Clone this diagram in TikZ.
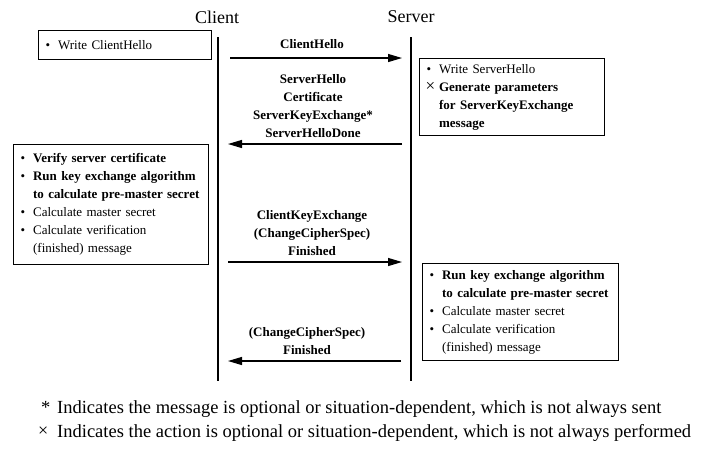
\documentclass[tikz,border=0pt]{standalone}
\usepackage{fontspec}
\setmainfont{Liberation Serif}
\usetikzlibrary{arrows.meta}

% list helpers for the action boxes
\newcommand\itm[1]{\makebox[13.5pt][l]{\hspace{1pt}\textbullet}#1}
\newcommand\opt[1]{\makebox[13.5pt][l]{{\fontsize{17}{17}\selectfont\raisebox{0pt}{×}}}#1}
\newcommand\cont[1]{\hspace*{13.5pt}#1}

\tikzset{
  lifeline/.style={line width=1.3pt},
  msgline/.style={line width=1.2pt, -{Triangle[length=14pt,width=8pt]}},
  msglabel/.style={font=\bfseries\fontsize{13}{18}\selectfont, align=center, inner sep=0pt},
  actbox/.style={draw, line width=1.2pt, anchor=north west, inner xsep=6pt, inner ysep=0pt,
                 align=left, font=\fontsize{13}{18}\selectfont},
  party/.style={font=\fontsize{18}{20}\selectfont, inner sep=0pt},
  note/.style={font=\fontsize{18.5}{24}\selectfont, anchor=base west, inner sep=0pt}
}

\begin{document}
\begin{tikzpicture}[x=1pt,y=-1pt]
\useasboundingbox (0,0) rectangle (710,451);

% parties and their lifelines
\node[party] (client) at (217,17) {Client};
\node[party] (server) at (411,17) {Server};
\coordinate (cTop) at (218,37);  \coordinate (cBot) at (218,381);
\coordinate (sTop) at (411,37);  \coordinate (sBot) at (411,381);
\draw[lifeline] (cTop) -- (cBot);
\draw[lifeline] (sTop) -- (sBot);

% message end points
\coordinate (c1) at (230,58);  \coordinate (s1) at (402,58);
\coordinate (s2) at (402,144); \coordinate (c2) at (228,144);
\coordinate (c3) at (228,262); \coordinate (s3) at (402,262);
\coordinate (s4) at (401,361); \coordinate (c4) at (228,361);

% messages
\draw[msgline] (c1) -- (s1);
\node[msglabel] (m1) at (312,44) {ClientHello};
\draw[msgline] (s2) -- (c2);
\node[msglabel] (m2) at (313,106) {ServerHello\\Certificate\\ServerKeyExchange*\\ServerHelloDone};
\draw[msgline] (c3) -- (s3);
\node[msglabel] (m3) at (312,233) {ClientKeyExchange\\(ChangeCipherSpec)\\Finished};
\draw[msgline] (s4) -- (c4);
\node[msglabel] (m4) at (307,341) {(ChangeCipherSpec)\\Finished};

% actions
\node[actbox, minimum width=173pt, minimum height=29pt, text width=161pt] (a1) at (38,30)
  {\itm{Write ClientHello}};
\node[actbox, minimum width=185pt, minimum height=77pt, text width=173pt] (a2) at (419,58)
  {\itm{Write ServerHello}\\
   \opt{\textbf{Generate parameters}}\\
   \cont{\textbf{for ServerKeyExchange}}\\
   \cont{\textbf{message}}};
\node[actbox, minimum width=195pt, minimum height=120pt, text width=183pt] (a3) at (13,144)
  {\itm{\textbf{Verify server certificate}}\\
   \itm{\textbf{Run key exchange algorithm}}\\
   \cont{\textbf{to calculate pre-master secret}}\\
   \itm{Calculate master secret}\\
   \itm{Calculate verification}\\
   \cont{(finished) message}};
\node[actbox, minimum width=196pt, minimum height=97pt, text width=184pt] (a4) at (422,263)
  {\itm{\textbf{Run key exchange algorithm}}\\
   \cont{\textbf{to calculate pre-master secret}}\\
   \itm{Calculate master secret}\\
   \itm{Calculate verification}\\
   \cont{(finished) message}};

% notes
\node[note] (n1) at (38,413) {\makebox[19pt][l]{\hspace{3pt}*}Indicates the message is optional or situation-dependent, which is not always sent};
\node[note] (n2) at (38,437) {\makebox[19pt][l]{{\fontsize{18}{18}\selectfont\raisebox{1pt}{×}}}Indicates the action is optional or situation-dependent, which is not always performed};
\end{tikzpicture}
\end{document}
